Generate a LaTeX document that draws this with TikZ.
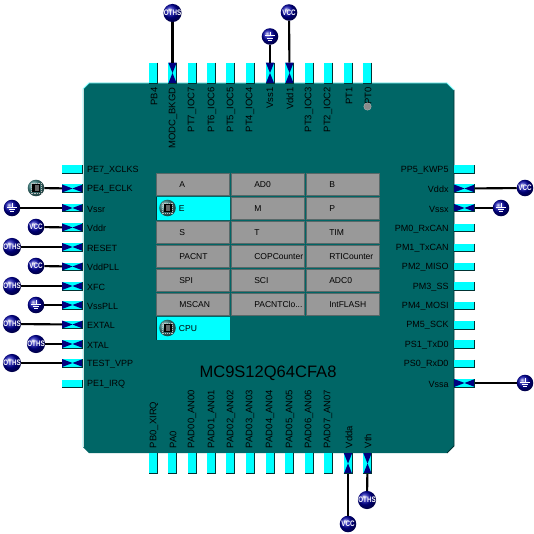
\documentclass[tikz,border=0pt]{standalone}
\usepackage{fontspec}
\setmainfont{Liberation Sans}
\definecolor{body}{RGB}{0,102,102}
\definecolor{pincy}{RGB}{0,255,255}
\definecolor{navyx}{RGB}{0,0,128}
\definecolor{pinedge}{RGB}{0,51,51}
\definecolor{cellg}{RGB}{153,153,153}
\definecolor{celle}{RGB}{88,104,104}
\newcommand{\pacntclo}{PACNTClo...}
\tikzset{
 x=0.75pt,y=-0.75pt,
 vpinbox/.style={rectangle,fill=pincy,minimum width=6.2pt,minimum height=15.4pt,inner sep=0pt,outer sep=0pt},
 hpinbox/.style={rectangle,fill=pincy,minimum width=15.6pt,minimum height=6pt,inner sep=0pt,outer sep=0pt},
 vwired/.style={path picture={\fill[navyx] (path picture bounding box.north west)--(path picture bounding box.south east)--(path picture bounding box.south west)--(path picture bounding box.north east)--cycle;}},
 hwired/.style={path picture={\fill[navyx] (path picture bounding box.north west)--(path picture bounding box.south east)--(path picture bounding box.north east)--(path picture bounding box.south west)--cycle;}},
 wire/.style={line width=1.6pt,black},
 pinlabel/.style={inner sep=0pt,outer sep=0pt,font=\fontsize{6.75pt}{7pt}\selectfont,text=black},
 vlabel/.style={inner sep=0pt,outer sep=0pt,font=\fontsize{7.1pt}{7pt}\selectfont,text=black,rotate=90},
 ball/.style={circle,minimum size=12.4pt,inner sep=0pt,outer sep=0pt,ball color=blue!65!black,text=white,font=\bfseries\fontsize{6pt}{6pt}\selectfont},
 chipball/.style={circle,minimum size=12.4pt,inner sep=0pt,outer sep=0pt,ball color=body!70!white},
 gridcell/.style={rectangle,fill=cellg,draw=celle,line width=0.75pt,minimum width=55pt,minimum height=16.6pt,inner sep=0pt,outer sep=0pt},
 activecell/.style={rectangle,fill=pincy,minimum width=55.5pt,minimum height=17pt,inner sep=0pt,outer sep=0pt},
 celltext/.style={inner sep=0pt,outer sep=0pt,font=\fontsize{6.4pt}{7pt}\selectfont,text=black,anchor=west},
}
% edges of a pin: dark on right and bottom
\newcommand{\pinedges}[1]{\draw[pinedge,line width=0.75pt] (#1.north east)--(#1.south east)--(#1.south west);}
\newcommand{\vp}[3]{\node[vpinbox,#3] (#1) at (#2) {};\pinedges{#1}}
\newcommand{\hp}[3]{\node[hpinbox,#3] (#1) at (#2) {};\pinedges{#1}}
\newcommand{\groundball}[2]{\node[ball] (#1) at (#2) {};
 \draw[white,line width=0.6pt] ([yshift=3.6pt]#1.center)--([yshift=0.5pt]#1.center) ([xshift=-3.6pt,yshift=0.5pt]#1.center)--([xshift=3.6pt,yshift=0.5pt]#1.center) ([xshift=-2.4pt,yshift=-1.2pt]#1.center)--([xshift=2.4pt,yshift=-1.2pt]#1.center) ([xshift=-1.2pt,yshift=-2.8pt]#1.center)--([xshift=1.2pt,yshift=-2.8pt]#1.center);}
\newcommand{\chipball}[2]{\node[chipball] (#1) at (#2) {};
 \draw[white!75!black,line width=0.4pt,densely dotted] ([xshift=-3.8pt,yshift=-3.8pt]#1.center) rectangle ([xshift=3.8pt,yshift=3.8pt]#1.center);
 \fill[black] ([xshift=-3pt,yshift=-3pt]#1.center) rectangle ([xshift=3pt,yshift=3pt]#1.center);
 \fill[black!60] ([xshift=-1pt,yshift=-2pt]#1.center) rectangle ([xshift=2pt,yshift=2pt]#1.center);}
\newcommand{\txtball}[3]{\node[ball] (#1) at (#2) {\scalebox{0.78}[1]{#3}};}
\begin{document}
\begin{tikzpicture}
\useasboundingbox (0,0) rectangle (534,534);
\fill[white] (0,0) rectangle (534,534);
% chip body
\fill[body] (89,83)--(447,83)--(454,90)--(454,446)--(447,453)--(89,453)--(83,447)--(83,89)--cycle;
\draw[pincy!50!white,line width=0.6pt] (83,447)--(83,89)--(89,83)--(447,83)--(454,90);
\draw[white!80!body,line width=0.6pt] (83,89)--(83,447);
\draw[pinedge,line width=0.6pt] (454,90)--(454,446)--(447,453);

% top pins
\vp{t1}{153.5,73}{}\vp{t2}{172.5,73}{vwired}\vp{t3}{192,73}{}\vp{t4}{211.5,73}{}
\vp{t5}{230.5,73}{}\vp{t6}{250,73}{}\vp{t7}{270,73}{vwired}\vp{t8}{289.5,73}{vwired}
\vp{t9}{309,73}{}\vp{t10}{328,73}{}\vp{t11}{348,73}{}\vp{t12}{367.5,73}{}
% bottom pins
\vp{b1}{153.5,463.5}{}\vp{b2}{172.5,463.5}{}\vp{b3}{192,463.5}{}\vp{b4}{211.5,463.5}{}
\vp{b5}{230.5,463.5}{}\vp{b6}{250,463.5}{}\vp{b7}{270,463.5}{}\vp{b8}{289.5,463.5}{}
\vp{b9}{309,463.5}{}\vp{b10}{328,463.5}{}\vp{b11}{348,463.5}{vwired}\vp{b12}{367.5,463.5}{vwired}
% left pins
\hp{l1}{72.5,169.5}{}\hp{l2}{72.5,188.5}{hwired}\hp{l3}{72.5,208}{hwired}\hp{l4}{72.5,227.5}{hwired}
\hp{l5}{72.5,247}{hwired}\hp{l6}{72.5,266.5}{hwired}\hp{l7}{72.5,286}{hwired}\hp{l8}{72.5,305}{hwired}
\hp{l9}{72.5,324.5}{hwired}\hp{l10}{72.5,344}{hwired}\hp{l11}{72.5,363}{hwired}\hp{l12}{72.5,383.5}{}
% right pins
\hp{r1}{464.5,169.5}{}\hp{r2}{464.5,188.5}{hwired}\hp{r3}{464.5,208}{hwired}\hp{r4}{464.5,228}{}
\hp{r5}{464.5,247.5}{}\hp{r6}{464.5,266.5}{}\hp{r7}{464.5,286}{}\hp{r8}{464.5,305.5}{}
\hp{r9}{464.5,325}{}\hp{r10}{464.5,344}{}\hp{r11}{464.5,363.5}{}\hp{r12}{464.5,383}{hwired}

% power / signal symbols
\txtball{st2}{172.5,13}{OTHS}
\groundball{st7}{270,36.5}
\txtball{st8}{289,12.5}{VCC}
\chipball{sl2}{36,188}
\groundball{sl3}{12,208}
\txtball{sl4}{36,227}{VCC}
\txtball{sl5}{12,247}{OTHS}
\txtball{sl6}{36,266}{VCC}
\txtball{sl7}{12,286}{OTHS}
\groundball{sl8}{36,305}
\txtball{sl9}{12,324}{OTHS}
\txtball{sl10}{36,344}{OTHS}
\txtball{sl11}{12,363}{OTHS}
\txtball{sr2}{525,188}{VCC}
\groundball{sr3}{501,208}
\groundball{sr12}{525,383}
\txtball{sb11}{348,524}{VCC}
\txtball{sb12}{367,500}{OTHS}

% connectors
\foreach \a/\b in {st2/t2,st7/t7,st8/t8,sl2/l2,sl3/l3,sl4/l4,sl5/l5,sl6/l6,sl7/l7,sl8/l8,sl9/l9,sl10/l10,sl11/l11,sr2/r2,sr3/r3,sr12/r12,sb11/b11,sb12/b12}
  \draw[wire] (\a) -- (\b);

% top labels
\foreach \n/\x/\t in {a1/154/PB4,a2/173/MODC\_BKGD,a3/192/PT7\_IOC7,a4/212/PT6\_IOC6,a5/231/PT5\_IOC5,a6/250/PT4\_IOC4,a7/270/Vss1,a8/290/Vdd1,a9/309/PT3\_IOC3,a10/328/PT2\_IOC2,a11/349/PT1,a12/368/PT0}
  \node[vlabel,anchor=east] (\n) at (\x,87.5) {\t};
% bottom labels
\foreach \n/\x/\t in {c1/154/PB0\_XIRQ,c2/173/PA0,c3/192/PAD00\_AN00,c4/212/PAD01\_AN01,c5/231/PAD02\_AN02,c6/250/PAD03\_AN03,c7/270/PAD04\_AN04,c8/290/PAD05\_AN05,c9/309/PAD06\_AN06,c10/328/PAD07\_AN07,c11/349/Vdda,c12/368/Vth}
  \node[vlabel,anchor=west] (\n) at (\x,448) {\t};
% left labels
\foreach \n/\y/\t in {d1/170/PE7\_XCLKS,d2/189/PE4\_ECLK,d3/209/Vssr,d4/228/Vddr,d5/248/RESET,d6/267/VddPLL,d7/287/XFC,d8/306/VssPLL,d9/325/EXTAL,d10/345/XTAL,d11/364/TEST\_VPP,d12/384/PE1\_IRQ}
  \node[pinlabel,anchor=west] (\n) at (87,\y) {\t};
% right labels
\foreach \n/\y/\t in {e1/170/PP5\_KWP5,e2/189/Vddx,e3/209/Vssx,e4/229/PM0\_RxCAN,e5/248/PM1\_TxCAN,e6/267/PM2\_MISO,e7/287/PM3\_SS,e8/306/PM4\_MOSI,e9/325/PM5\_SCK,e10/345/PS1\_TxD0,e11/364/PS0\_RxD0,e12/384/Vssa}
  \node[pinlabel,anchor=east] (\n) at (448.5,\y) {\t};
% gray dot
\node[circle,fill=black!45,draw=white!70!black,line width=0.3pt,minimum size=5.6pt,inner sep=0pt] (dot) at (367.5,106.5) {};

% grid
\foreach \n/\x/\y/\t in {
 g1/193/184.5/A,g2/268/184.5/AD0,g3/343/184.5/B,
 g5/268/208.5/M,g6/343/208.5/P,
 g7/193/232.5/S,g8/268/232.5/T,g9/343/232.5/TIM,
 g10/193/256.5/PACNT,g11/268/256.5/COPCounter,g12/343/256.5/RTICounter,
 g13/193/280.5/SPI,g14/268/280.5/SCI,g15/343/280.5/ADC0,
 g16/193/304.5/MSCAN,g17/268/304.5/\pacntclo,g18/343/304.5/IntFLASH}
 {\node[gridcell] (\n) at (\x,\y) {};
  \node[celltext] (\n txt) at ([xshift=17.2pt]\n.west) {\t};}
\node[activecell] (g4) at (193,208.5) {};
\draw[pinedge,line width=0.6pt] (g4.north west)--(g4.south west);
\node[celltext] (g4txt) at ([xshift=17.2pt]g4.west) {E};
\chipball{ge}{167.5,208}
\node[activecell] (gc) at (193,328.5) {};
\draw[pinedge,line width=0.6pt] (gc.north west)--(gc.south west);
\node[celltext] (gctxt) at ([xshift=17.2pt]gc.west) {CPU};
\chipball{gc2}{167.5,328}

% title
\node[inner sep=0pt,font=\fontsize{12.4pt}{13pt}\selectfont,text=black] (title) at (268,373) {MC9S12Q64CFA8};
\end{tikzpicture}
\end{document}
